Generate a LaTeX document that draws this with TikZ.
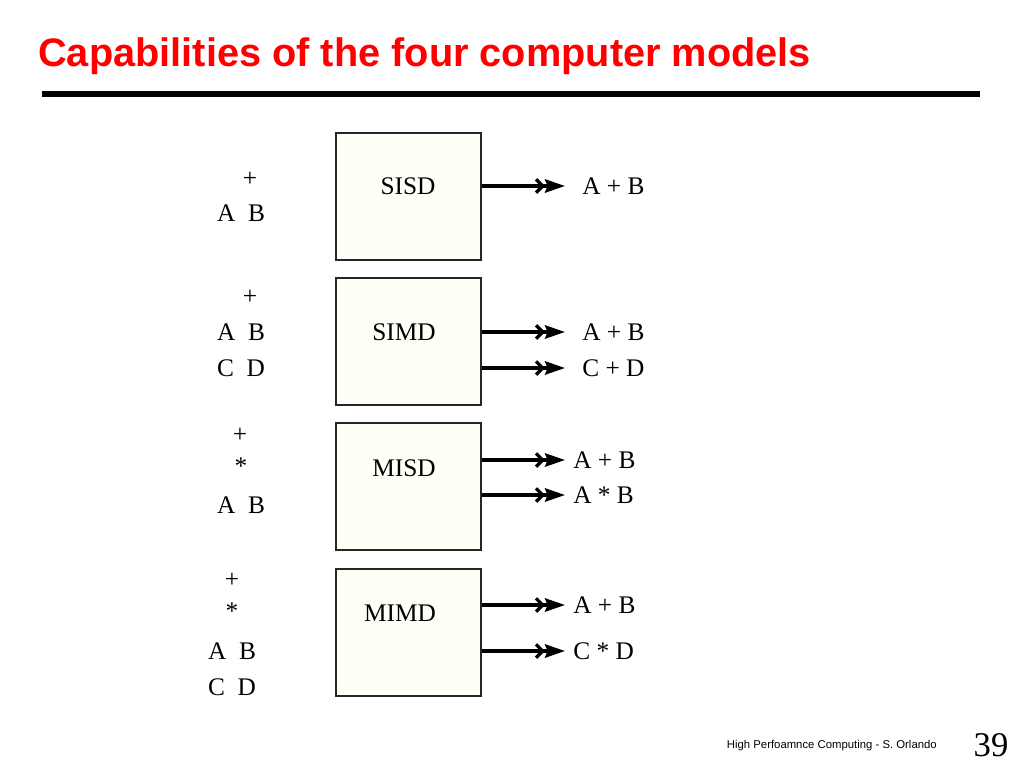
\documentclass[tikz,border=0pt]{standalone}
\usepackage{fontspec}
\usepackage{graphicx}
\setmainfont{Liberation Serif}
\newfontfamily\slidesans{Liberation Sans}
\usetikzlibrary{arrows.meta,positioning}

\begin{document}
\begin{tikzpicture}[x=0.75pt, y=-0.75pt,
  flynbox/.style = {draw=black!85, line width=1.5pt, fill={rgb,255:red,255;green,255;blue,247},
                    minimum width=108.75pt, minimum height=95.25pt, inner sep=0pt},
  flyntxt/.style = {font=\fontsize{19}{19}\selectfont, inner sep=0pt},
  flynout/.style = {flyntxt, anchor=west},
  flynarrow/.style = {line width=2.4pt,
                      -{Straight Barb[length=5pt,width=10pt]Stealth[length=15pt,width=10pt,inset=2pt]}},
  flyntitle/.style = {font=\slidesans\bfseries\fontsize{29.8}{29.8}\selectfont, text=red, inner sep=0pt}
]
  \useasboundingbox (0,0) rectangle (1024,768);
  % titolo
  \node[flyntitle, anchor=base west] (title) at (38,66) {Capabilities of the four computer models};
  \fill (42,91) rectangle (980,97);
  % punte delle frecce
  \coordinate (tip) at (565,0);
  % SISD
  \node[flynbox] (sisd) at (408.5,196.5) {};
  \node[flyntxt] (sisdlbl) at (408,186) {SISD};
  \node[flyntxt] (sisdop) at (250,179) {+};
  \node[flyntxt] (sisdab) at (241,213) {A\ \ B};
  \node[flynout] (sisdo1) at (582,186) {A + B};
  \draw[flynarrow] (sisd.east |- sisdo1) -- (tip |- sisdo1);
  % SIMD
  \node[flynbox] (simd) at (408.5,341.5) {};
  \node[flyntxt] (simdlbl) at (404,332) {SIMD};
  \node[flyntxt] (simdop) at (250,297) {+};
  \node[flyntxt] (simdab) at (241,332) {A\ \ B};
  \node[flyntxt] (simdcd) at (241,368) {C\ \ D};
  \node[flynout] (simdo1) at (582,332) {A + B};
  \node[flynout] (simdo2) at (582,368) {C + D};
  \draw[flynarrow] (simd.east |- simdo1) -- (tip |- simdo1);
  \draw[flynarrow] (simd.east |- simdo2) -- (tip |- simdo2);
  % MISD
  \node[flynbox] (misd) at (408.5,486.5) {};
  \node[flyntxt] (misdlbl) at (404,468) {MISD};
  \node[flyntxt] (misdop1) at (240,435) {+};
  \node[flyntxt] (misdop2) at (241,466) {*};
  \node[flyntxt] (misdab) at (241,505) {A\ \ B};
  \node[flynout] (misdo1) at (573,460) {A + B};
  \node[flynout] (misdo2) at (573,495) {A * B};
  \draw[flynarrow] (misd.east |- misdo1) -- (tip |- misdo1);
  \draw[flynarrow] (misd.east |- misdo2) -- (tip |- misdo2);
  % MIMD
  \node[flynbox] (mimd) at (408.5,632.5) {};
  \node[flyntxt] (mimdlbl) at (400,613) {MIMD};
  \node[flyntxt] (mimdop1) at (232,580) {+};
  \node[flyntxt] (mimdop2) at (232,611) {*};
  \node[flyntxt] (mimdab) at (232,651) {A\ \ B};
  \node[flyntxt] (mimdcd) at (232,687) {C\ \ D};
  \node[flynout] (mimdo1) at (573,605) {A + B};
  \node[flynout] (mimdo2) at (573,651) {C * D};
  \draw[flynarrow] (mimd.east |- mimdo1) -- (tip |- mimdo1);
  \draw[flynarrow] (mimd.east |- mimdo2) -- (tip |- mimdo2);
  % pie di pagina
  \node[font=\slidesans\fontsize{8.5}{8.5}\selectfont, anchor=east, inner sep=0pt] (footer) at (937,746)
    {High Perfoamnce Computing - S. Orlando};
  \node[font=\fontsize{26}{26}\selectfont, inner sep=0pt] (pagenum) at (991,745) {39};
\end{tikzpicture}
\end{document}
